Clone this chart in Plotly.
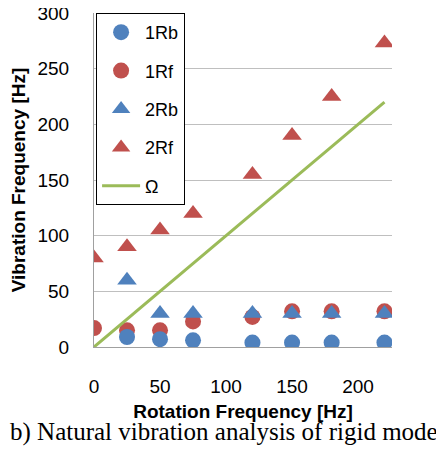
import plotly.graph_objects as go

rot_1rb = [25, 50, 75, 120, 150, 180, 220]
val_1rb = [9, 7, 6, 4, 4, 4, 4]
rot_1rf = [0, 25, 50, 75, 120, 150, 180, 220]
val_1rf = [17, 15, 15, 23, 27, 32, 32, 32]
rot_2rb = [25, 50, 75, 120, 150, 180, 220]
val_2rb = [60, 30, 30, 30, 30, 30, 30]
rot_2rf = [0, 25, 50, 75, 120, 150, 180, 220]
val_2rf = [80, 90, 105, 120, 155, 190, 225, 273]
omega_x = [0, 220]
omega_y = [0, 220]

BLUE = "#4F81BD"
RED = "#C0504D"
GREEN = "#9BBB59"

fig = go.Figure()
fig.add_trace(go.Scatter(x=rot_1rf, y=val_1rf, mode="markers", name="1Rf", legendrank=2, legendgroup="b",
                         marker=dict(symbol="circle", size=16, color=RED)))
fig.add_trace(go.Scatter(x=rot_1rb, y=val_1rb, mode="markers", name="1Rb", legendrank=1, legendgroup="a",
                         marker=dict(symbol="circle", size=16, color=BLUE)))
fig.add_trace(go.Scatter(x=rot_2rf, y=val_2rf, mode="markers", name="2Rf", legendrank=4, legendgroup="d",
                         marker=dict(symbol="triangle-up", size=17, color=RED)))
fig.add_trace(go.Scatter(x=rot_2rb, y=val_2rb, mode="markers", name="2Rb", legendrank=3, legendgroup="c",
                         marker=dict(symbol="triangle-up", size=17, color=BLUE)))
fig.add_trace(go.Scatter(x=omega_x, y=omega_y, mode="lines", name="Ω", legendrank=5, legendgroup="e",
                         line=dict(color=GREEN, width=3)))

# page body has an 8px margin; plot area (window px): x 94..392, y 13..347
fig.update_layout(
    width=444, height=450,
    margin=dict(l=86, r=60, t=5, b=111, autoexpand=False),
    paper_bgcolor="white", plot_bgcolor="white",
    font=dict(family="Liberation Sans", size=19, color="black"),
    showlegend=True,
    legend=dict(x=0.007, y=1, xanchor="left", yanchor="top",
                bordercolor="black", borderwidth=1, bgcolor="white",
                font=dict(size=18), tracegroupgap=12, traceorder="grouped",
                itemwidth=38),
    xaxis=dict(range=[0, 225.7], tickvals=[0, 50, 100, 150, 200], showgrid=False,
               zeroline=False, showline=True, linecolor="#A0A0A0", linewidth=1,
               ticks="", ticklabelstandoff=22, automargin=False, ticklabeloverflow="allow",
               title=dict(text="<b>Rotation Frequency [Hz]</b>", font=dict(size=19), standoff=8)),
    yaxis=dict(range=[0, 300], tickvals=[0, 50, 100, 150, 200, 250, 300], showgrid=True,
               gridcolor="#BFBFBF", gridwidth=1, zeroline=False, showline=True,
               linecolor="#A0A0A0", linewidth=1, ticks="", ticklabelstandoff=20, automargin=False,
               ticklabeloverflow="allow",
               title=dict(text="<b>Vibration Frequency [Hz]</b>", font=dict(size=19), standoff=6)),
)
fig.add_annotation(text="b) Natural vibration analysis of rigid mode", xref="paper", yref="paper",
                   x=(0 - 86) / 298, y=(339 - 424) / 334, xanchor="left", yanchor="middle",
                   showarrow=False, font=dict(family="Liberation Serif", size=25, color="black"))

fig.write_html("out.html")
